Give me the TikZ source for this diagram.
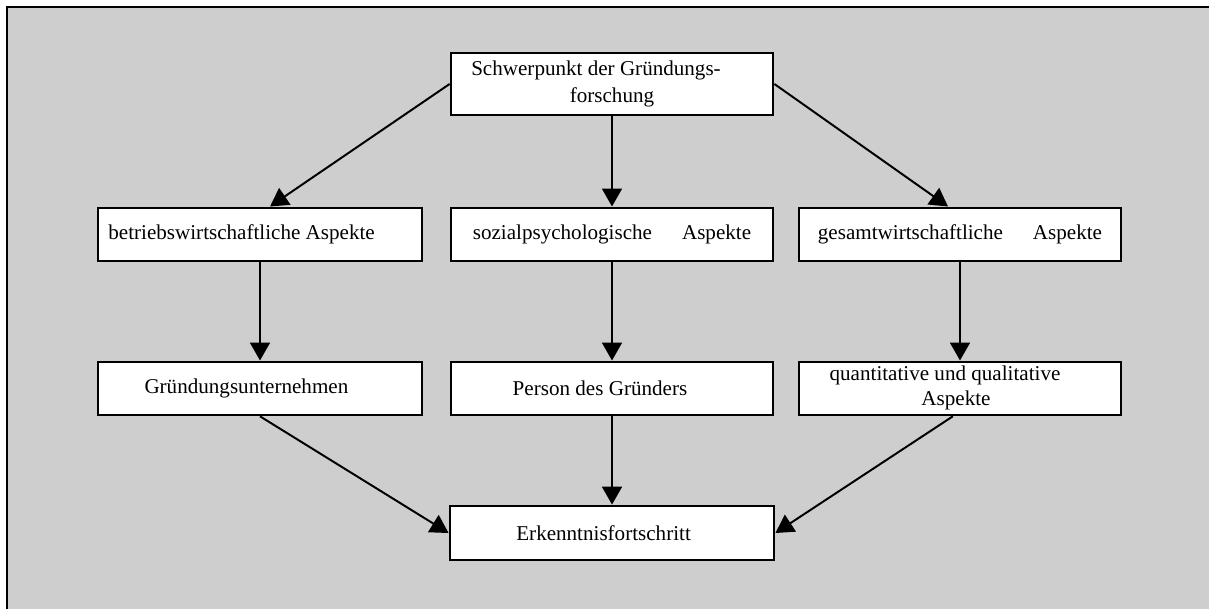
\documentclass[tikz,border=0pt]{standalone}
\usepackage{fontspec}
\setmainfont{Liberation Serif}
\usetikzlibrary{arrows.meta}
\definecolor{framegray}{RGB}{206,206,206}
\tikzset{
  box/.style={draw, fill=white, line width=2pt, minimum width=8.1cm, minimum height=1.325cm,
    inner sep=0pt, align=center, font=\fontsize{15}{17.8}\selectfont},
  link/.style={line width=1.4pt, -{Triangle[length=0.45cm, width=0.5cm]}}
}
\begin{document}
\begin{tikzpicture}
    \useasboundingbox (0, 0) rectangle (30.225, -15.2);
    \clip (0, 0) rectangle (30.225, -15.2);
    \draw[fill=framegray, line width=2pt] (0.175, -0.175) rectangle (31, -16);
    % top
    \node[box, minimum width=8.05cm, minimum height=1.55cm] (top) at (15.3, -2.1)
        {Schwerpunkt der Gründungs-\hspace*{0.8cm}\\[1pt]forschung};
    % middle row
    \node[box] (bwl) at (6.5, -5.86) {betriebswirtschaftliche Aspekte\hspace*{0.92cm}};
    \node[box, minimum width=8.05cm] (soz) at (15.3, -5.86) {sozialpsychologische\hspace{0.75cm}Aspekte};
    \node[box, minimum width=8.05cm] (vwl) at (24, -5.86) {gesamtwirtschaftliche\hspace{0.75cm}Aspekte};
    % lower row
    \node[box] (unternehmen) at (6.5, -9.71) {Gründungsunternehmen\hspace*{0.68cm}};
    \node[box, minimum width=8.05cm] (gruender) at (15.3, -9.71) {Person des Gründers\hspace*{0.6cm}};
    \node[box, minimum width=8.05cm] (quanti) at (24, -9.71)
        {quantitative und qualitative\hspace*{0.75cm}\\Aspekte\hspace*{0.2cm}};
    % bottom
    \node[box, minimum height=1.35cm] (erkenntnis) at (15.3, -13.325) {Erkenntnisfortschritt\hspace*{0.42cm}};
    \draw[link] (top.west) -- ([xshift=0.25cm]bwl.north);
    \draw[link] (top.south) -- (soz.north);
    \draw[link] (top.east) -- ([xshift=-0.3cm]vwl.north);
    \draw[link] (bwl.south) -- (unternehmen.north);
    \draw[link] (soz.south) -- (gruender.north);
    \draw[link] (vwl.south) -- (quanti.north);
    \draw[link] (unternehmen.south) -- (erkenntnis.west);
    \draw[link] (gruender.south) -- (erkenntnis.north);
    \draw[link] ([xshift=-0.18cm]quanti.south) -- (erkenntnis.east);
\end{tikzpicture}
\end{document}
